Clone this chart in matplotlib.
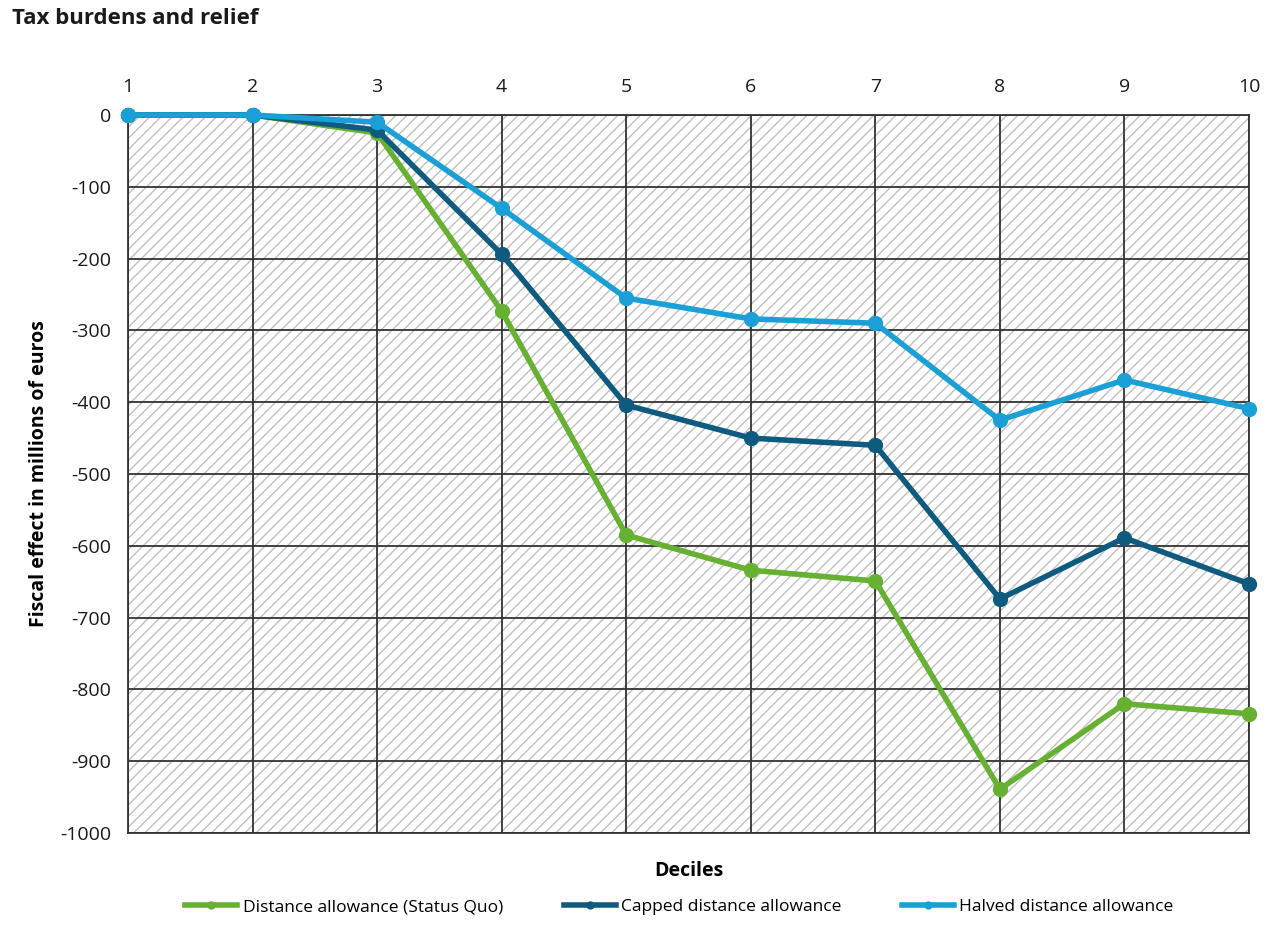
import matplotlib
matplotlib.use("Agg")
import matplotlib.pyplot as plt
from matplotlib.patches import Rectangle

deciles = [1, 2, 3, 4, 5, 6, 7, 8, 9, 10]
status_quo = [0, 0, -25, -273, -585, -634, -649, -939, -820, -834]
capped = [0, 0, -21, -194, -404, -450, -460, -674, -589, -653]
halved = [0, 0, -10, -130, -255, -284, -290, -425, -369, -409]
yticks = [0, -100, -200, -300, -400, -500, -600, -700, -800, -900, -1000]

series = [
    ("Distance allowance (Status Quo)", status_quo, "#66b032"),
    ("Capped distance allowance", capped, "#0f5b80"),
    ("Halved distance allowance", halved, "#1aa0d6"),
]

plt.rcParams["font.family"] = ["Open Sans", "DejaVu Sans"]
plt.rcParams["axes.unicode_minus"] = False
plt.rcParams["hatch.linewidth"] = 1.0
plt.rcParams["hatch.color"] = "#c0c0c0"

fig = plt.figure(figsize=(12.77, 9.44), dpi=100)
ax = fig.add_axes([128 / 1277, 1 - 833 / 944, (1249 - 128) / 1277, (833 - 115) / 944])
ax.set_xlim(1, 10)
ax.set_ylim(-1000, 0)

# hatched plot area
ax.add_patch(Rectangle((0, 0), 1, 1, transform=ax.transAxes, facecolor="white",
                       hatch="///", edgecolor="#c0c0c0", lw=0, zorder=0))

ax.set_xticks(deciles)
ax.set_yticks(yticks)
ax.grid(True, color="#333333", lw=1.3, zorder=1)
ax.set_axisbelow(True)
for s in ax.spines.values():
    s.set_color("#333333")
    s.set_linewidth(1.3)
ax.tick_params(axis="both", length=0, labelsize=14, colors="#1a1a1a")
ax.tick_params(axis="x", top=True, labeltop=True, bottom=False, labelbottom=False, pad=14)
ax.tick_params(axis="y", pad=12)

for label, vals, color in series:
    ax.plot(deciles, vals, color=color, lw=4, marker="o", ms=10, label=label,
            zorder=3, clip_on=False)

ax.set_xlabel("Deciles", fontsize=14, fontweight="bold", labelpad=20)
ax.set_ylabel("Fiscal effect in millions of euros", fontsize=14, fontweight="bold", labelpad=8)

fig.text(12 / 1277, 1 - 18 / 944, "Tax burdens and relief", fontsize=16, fontweight="bold",
         ha="left", va="center", color="#1a1a1a")

fig.legend(loc="center", bbox_to_anchor=(0.532, 1 - 907 / 944), ncol=3, frameon=False,
           handlelength=3, handletextpad=0.3, columnspacing=3.5, markerscale=0.5,
           prop={"size": 12.5})

fig.savefig("out.png", dpi=100)
